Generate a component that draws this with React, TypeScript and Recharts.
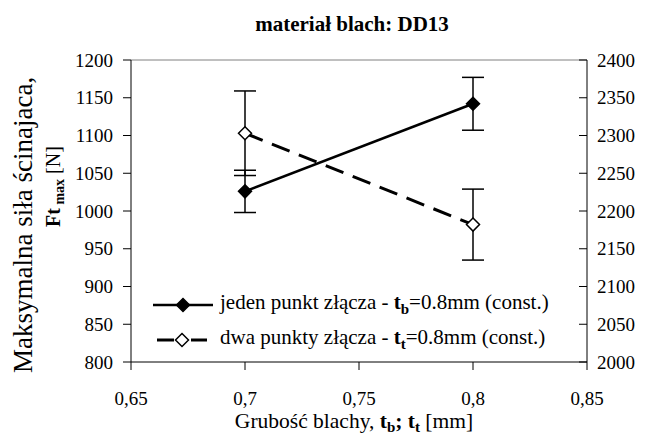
import React from 'react';
import { LineChart, Line, XAxis, YAxis, ErrorBar, Legend, ReferenceLine } from 'recharts';

// grubość blachy [mm]
const thickness = [0.7, 0.8];
// jeden punkt złącza - lewa oś [N]
const jedenForce = [1026, 1142];
const jedenErr = [28, 35];
// dwa punkty złącza - prawa oś [N]
const dwaForce = [2303, 2182];
const dwaErr = [56, 47];

const xTicks = [0.65, 0.7, 0.75, 0.8, 0.85];
const leftTicks = [800, 850, 900, 950, 1000, 1050, 1100, 1150, 1200];
const rightTicks = [2000, 2050, 2100, 2150, 2200, 2250, 2300, 2350, 2400];

const data = thickness.map((t, i) => ({
  t,
  jeden: jedenForce[i],
  jedenErr: jedenErr[i],
  dwa: dwaForce[i],
  dwaErr: dwaErr[i],
}));

const FONT = 'Liberation Serif';

const diamond = (filled: boolean) => (props: any) => {
  const { cx, cy, index } = props;
  const r = 6.5;
  return (
    <polygon
      key={`d-${filled ? 'f' : 'o'}-${index}`}
      points={`${cx},${cy - r} ${cx + r},${cy} ${cx},${cy + r} ${cx - r},${cy}`}
      fill={filled ? '#000' : '#fff'}
      stroke="#000"
      strokeWidth={1.5}
    />
  );
};

const XTitle = () => (
  <text x={354} y={428} textAnchor="middle" fontFamily={FONT} fontSize={21.5} fill="#000">
    Grubość blachy,{' '}
    <tspan fontWeight="bold">t</tspan>
    <tspan fontWeight="bold" fontSize={15} dy={4}>b</tspan>
    <tspan fontWeight="bold" dy={-4}>;</tspan>
    <tspan> </tspan>
    <tspan fontWeight="bold">t</tspan>
    <tspan fontWeight="bold" fontSize={15} dy={4}>t</tspan>
    <tspan dy={-4}> [mm]</tspan>
  </text>
);

// rotated title, text starts at the bottom and runs upward
const YTitle = () => (
  <g fontFamily={FONT} fill="#000">
    <text x={32} y={373} transform="rotate(-90, 32, 373)" textAnchor="start" fontSize={27}>
      Maksymalna siła  ścinajaca,
    </text>
    <text x={60} y={227} transform="rotate(-90, 60, 227)" textAnchor="start" fontSize={20}>
      <tspan fontWeight="bold">Ft</tspan>
      <tspan fontWeight="bold" fontSize={14} dy={4}> max</tspan>
      <tspan dy={-4}> [N]</tspan>
    </text>
  </g>
);

const LegendBox = () => (
  <div style={{ fontFamily: FONT, fontSize: 21, color: '#000' }}>
    <div style={{ display: 'flex', alignItems: 'center', height: 35 }}>
      <svg width={72} height={20}>
        <line x1={5} y1={10} x2={65} y2={10} stroke="#000" strokeWidth={2.5} />
        <polygon points="35,3.5 41.5,10 35,16.5 28.5,10" fill="#000" stroke="#000" strokeWidth={1.5} />
      </svg>
      <span style={{ whiteSpace: 'nowrap' }}>
        jeden punkt złącza - <b>t</b><sub style={{ fontWeight: 'bold', fontSize: 15 }}>b</sub>=0.8mm (const.)
      </span>
    </div>
    <div style={{ display: 'flex', alignItems: 'center', height: 35 }}>
      <svg width={72} height={20}>
        <line x1={9} y1={10} x2={26} y2={10} stroke="#000" strokeWidth={3} />
        <line x1={43} y1={10} x2={59} y2={10} stroke="#000" strokeWidth={3} />
        <polygon points="34,3.5 40.5,10 34,16.5 27.5,10" fill="#fff" stroke="#000" strokeWidth={1.5} />
      </svg>
      <span style={{ whiteSpace: 'nowrap' }}>
        dwa punkty złącza - <b>t</b><sub style={{ fontWeight: 'bold', fontSize: 15 }}>t</sub>=0.8mm (const.)
      </span>
    </div>
  </div>
);

export default function App() {
  const tickStyle = { fill: '#000', fontSize: 19, fontFamily: FONT };
  return (
    <div style={{ position: 'fixed', left: 0, top: 0, width: 646, height: 441, background: '#fff', fontFamily: FONT }}>
      <div
        style={{
          position: 'absolute',
          left: 252,
          width: 200,
          top: 14,
          lineHeight: '20px',
          textAlign: 'center',
          fontWeight: 'bold',
          fontSize: 21,
          whiteSpace: 'nowrap',
        }}
      >
        materiał blach: DD13
      </div>
      <LineChart
        width={646}
        height={441}
        data={data}
        margin={{ top: 60, right: 4, bottom: 49, left: 71 }}
        style={{ position: 'absolute', left: 0, top: 0, fontFamily: FONT }}
      >
        <XAxis
          dataKey="t"
          type="number"
          domain={[0.65, 0.85]}
          ticks={xTicks}
          tickFormatter={(v: number) => String(v).replace('.', ',')}
          tick={tickStyle}
          tickSize={8}
          tickMargin={22}
          height={30}
          stroke="#000"
          label={{ content: () => <XTitle /> }}
        />
        <YAxis
          yAxisId="left"
          domain={[800, 1200]}
          ticks={leftTicks}
          tick={tickStyle}
          tickSize={8}
          tickMargin={10}
          width={60}
          stroke="#000"
          label={{ content: () => <YTitle /> }}
        />
        <YAxis
          yAxisId="right"
          orientation="right"
          domain={[2000, 2400]}
          ticks={rightTicks}
          tick={tickStyle}
          tickSize={-8}
          tickMargin={18}
          width={55}
          stroke="#000"
        />
        <ReferenceLine yAxisId="left" y={1200} stroke="#808080" strokeWidth={1} />
        <Line
          yAxisId="left"
          dataKey="jeden"
          stroke="#000"
          strokeWidth={2.5}
          dot={diamond(true)}
          activeDot={false}
          isAnimationActive={false}
        >
          <ErrorBar dataKey="jedenErr" width={11} stroke="#000" strokeWidth={1.5} direction="y" isAnimationActive={false} />
        </Line>
        <Line
          yAxisId="right"
          dataKey="dwa"
          stroke="#000"
          strokeWidth={3}
          strokeDasharray="19 10"
          dot={diamond(false)}
          activeDot={false}
          isAnimationActive={false}
        >
          <ErrorBar dataKey="dwaErr" width={11} stroke="#000" strokeWidth={1.5} direction="y" isAnimationActive={false} />
        </Line>
        <Legend
          layout="vertical"
          align="center"
          verticalAlign="middle"
          wrapperStyle={{ left: 148, top: 287, width: 'auto' }}
          content={() => <LegendBox />}
        />
      </LineChart>
    </div>
  );
}
